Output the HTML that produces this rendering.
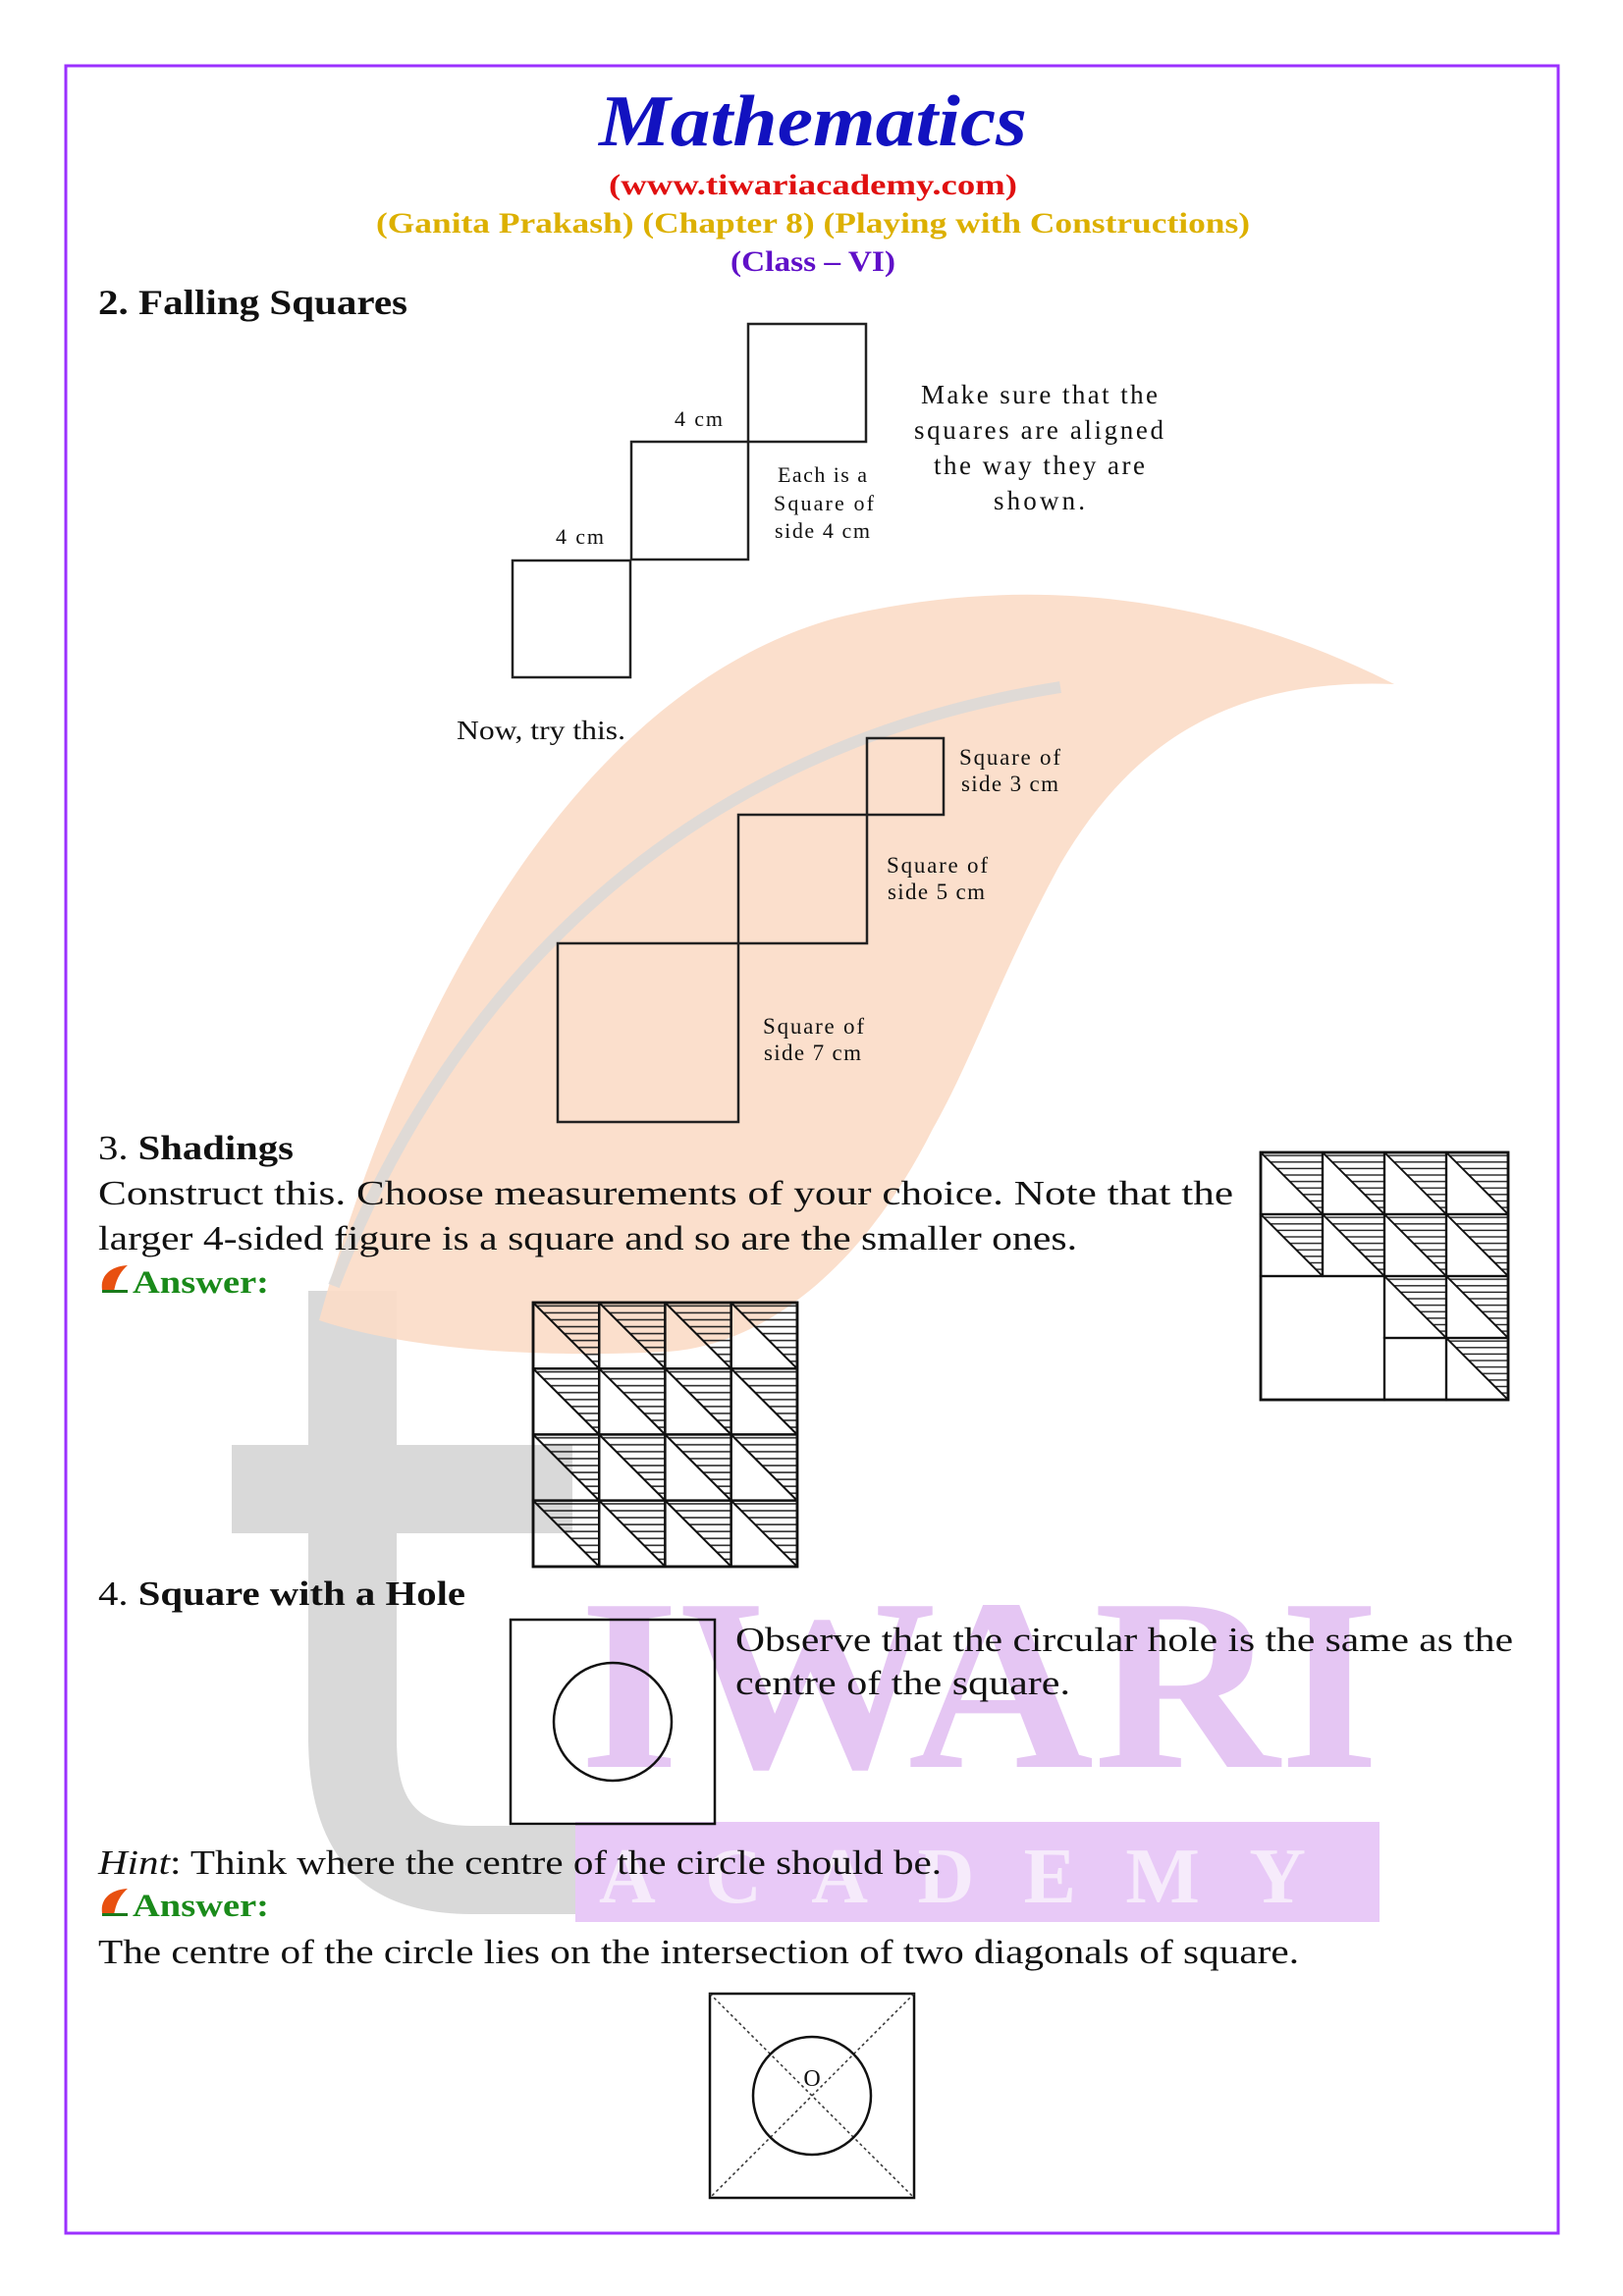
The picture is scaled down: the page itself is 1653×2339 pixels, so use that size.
<!DOCTYPE html>
<html><head><meta charset="utf-8"><style>html,body{margin:0;padding:0;background:#fff}svg{display:block}</style></head>
<body>
<svg width="1653" height="2339" viewBox="0 0 1653 2339" xmlns="http://www.w3.org/2000/svg" font-family="'Liberation Serif', serif">
<defs>
<pattern id="h" patternUnits="userSpaceOnUse" width="1" height="0.105"><line x1="0" y1="0.05" x2="1" y2="0.05" stroke="#222" stroke-width="0.022"/></pattern>
<g id="cell">
<polygon points="0,0 1,0 1,1" fill="url(#h)"/>
<line x1="0" y1="0" x2="1" y2="1" stroke="#111" stroke-width="0.03"/>
<rect x="0" y="0" width="1" height="1" fill="none" stroke="#111" stroke-width="0.035"/>
</g>
</defs>
<rect width="1653" height="2339" fill="#fff"/>
<!-- watermark -->
<rect x="314" y="1315" width="90" height="460" fill="#d9d9d9"/>
<path d="M325,1345 C420,1000 600,700 850,630 C1050,580 1250,610 1420,697 C1250,690 1150,760 1080,880 C1020,990 990,1080 950,1150 C880,1290 780,1370 680,1377 C520,1385 400,1370 325,1345 Z" fill="#fbdcc6" opacity="0.9"/>
<path d="M340,1310 C460,1000 700,760 1080,700" fill="none" stroke="#d8d8d8" stroke-width="12" opacity="0.8"/>
<rect x="236" y="1472" width="347" height="90" fill="#d9d9d9"/>
<path d="M314,1770 C314,1900 380,1950 480,1950 L590,1950 L590,1860 L480,1860 C420,1860 404,1830 404,1770 Z" fill="#d9d9d9"/>
<text x="590" y="1800" font-size="250" font-weight="bold" fill="#e5c6f3" textLength="815" lengthAdjust="spacingAndGlyphs">IWARI</text>
<rect x="586" y="1856" width="819" height="102" fill="#e8c9f7"/>
<text x="610" y="1938" font-size="80" font-weight="bold" fill="#f6ebfb" textLength="780" letter-spacing="60">ACADEMY</text>
<!-- border -->
<rect x="67" y="67" width="1520" height="2208" fill="none" stroke="#9b30ff" stroke-width="3"/>
<!-- header -->
<text x="610" y="148" font-size="74" font-weight="bold" font-style="italic" fill="#1212c0" textLength="436" lengthAdjust="spacingAndGlyphs">Mathematics</text>
<text x="620" y="198" font-size="30" font-weight="bold" fill="#e01010" textLength="416" lengthAdjust="spacingAndGlyphs">(www.tiwariacademy.com)</text>
<text x="383" y="237" font-size="30" font-weight="bold" fill="#dcb000" textLength="890" lengthAdjust="spacingAndGlyphs">(Ganita Prakash) (Chapter 8) (Playing with Constructions)</text>
<text x="744" y="276" font-size="30" font-weight="bold" fill="#6010c8" textLength="168" lengthAdjust="spacingAndGlyphs">(Class – VI)</text>
<g fill="#111">
<text x="100" y="320" font-size="36" font-weight="bold" textLength="315" lengthAdjust="spacingAndGlyphs">2. Falling Squares</text>
<g fill="none" stroke="#222" stroke-width="2.5">
<rect x="762" y="330" width="120" height="120"/>
<rect x="643" y="450" width="119" height="120"/>
<rect x="522" y="571" width="120" height="119"/>
<rect x="883" y="752" width="78" height="78"/>
<rect x="752" y="830" width="131" height="131"/>
<rect x="568" y="961" width="184" height="182"/>
</g>
<g font-size="22" lengthAdjust="spacingAndGlyphs">
<text x="687" y="434" textLength="49">4 cm</text>
<text x="566" y="554" textLength="49">4 cm</text>
<text x="792" y="491" textLength="91">Each is a</text>
<text x="788" y="520" textLength="102">Square of</text>
<text x="789" y="548" textLength="97">side 4 cm</text>
</g>
<g font-size="27" lengthAdjust="spacingAndGlyphs">
<text x="938" y="411" textLength="241">Make sure that the</text>
<text x="931" y="447" textLength="254">squares are aligned</text>
<text x="951" y="483" textLength="215">the way they are</text>
<text x="1012" y="519" textLength="93">shown.</text>
</g>
<text x="465" y="753" font-size="27" textLength="172" lengthAdjust="spacingAndGlyphs">Now, try this.</text>
<g font-size="23" lengthAdjust="spacingAndGlyphs">
<text x="977" y="779" textLength="103">Square of</text><text x="979" y="806" textLength="99">side 3 cm</text>
<text x="903" y="889" textLength="103">Square of</text><text x="904" y="916" textLength="99">side 5 cm</text>
<text x="777" y="1053" textLength="103">Square of</text><text x="778" y="1080" textLength="99">side 7 cm</text>
</g>
<text x="100" y="1181" font-size="35" textLength="199" lengthAdjust="spacingAndGlyphs">3. <tspan font-weight="bold">Shadings</tspan></text>
<text x="100" y="1227" font-size="35" textLength="1156" lengthAdjust="spacingAndGlyphs">Construct this. Choose measurements of your choice. Note that the</text>
<text x="100" y="1273" font-size="35" textLength="997" lengthAdjust="spacingAndGlyphs">larger 4-sided figure is a square and so are the smaller ones.</text>
<path d="M104,1314 C102,1300 112,1290 130,1289 C122,1296 118,1304 116,1316 Z" fill="#e85010"/>
<rect x="104" y="1314" width="26" height="3" fill="#1a7a1a"/>
<text x="135" y="1317" font-size="33" font-weight="bold" fill="#1a8a1a" textLength="139" lengthAdjust="spacingAndGlyphs">Answer:</text>
<text x="100" y="1635" font-size="35" textLength="374" lengthAdjust="spacingAndGlyphs">4. <tspan font-weight="bold">Square with a Hole</tspan></text>
<text x="749" y="1682" font-size="35" textLength="792" lengthAdjust="spacingAndGlyphs">Observe that the circular hole is the same as the</text>
<text x="749" y="1726" font-size="35" textLength="341" lengthAdjust="spacingAndGlyphs">centre of the square.</text>
<text x="100" y="1909" font-size="35" textLength="859" lengthAdjust="spacingAndGlyphs"><tspan font-style="italic">Hint</tspan>: Think where the centre of the circle should be.</text>
<path d="M104,1949 C102,1935 112,1925 130,1924 C122,1931 118,1939 116,1951 Z" fill="#e85010"/>
<rect x="104" y="1949" width="26" height="3" fill="#1a7a1a"/>
<text x="135" y="1952" font-size="33" font-weight="bold" fill="#1a8a1a" textLength="139" lengthAdjust="spacingAndGlyphs">Answer:</text>
<text x="100" y="2000" font-size="35" textLength="1223" lengthAdjust="spacingAndGlyphs">The centre of the circle lies on the intersection of two diagonals of square.</text>
</g>
<!-- right shading figure -->
<g>
<use href="#cell" transform="translate(1284,1174) scale(63)"/>
<use href="#cell" transform="translate(1347,1174) scale(63)"/>
<use href="#cell" transform="translate(1410,1174) scale(63)"/>
<use href="#cell" transform="translate(1473,1174) scale(63)"/>
<use href="#cell" transform="translate(1284,1237) scale(63)"/>
<use href="#cell" transform="translate(1347,1237) scale(63)"/>
<use href="#cell" transform="translate(1410,1237) scale(63)"/>
<use href="#cell" transform="translate(1473,1237) scale(63)"/>
<use href="#cell" transform="translate(1410,1300) scale(63)"/>
<use href="#cell" transform="translate(1473,1300) scale(63)"/>
<use href="#cell" transform="translate(1473,1363) scale(63)"/>
<rect x="1284" y="1300" width="126" height="126" fill="none" stroke="#111" stroke-width="2.2"/>
<rect x="1410" y="1363" width="63" height="63" fill="none" stroke="#111" stroke-width="2.2"/>
<rect x="1284" y="1174" width="252" height="252" fill="none" stroke="#111" stroke-width="2.8"/>
</g>
<!-- answer shading figure -->
<g>
<use href="#cell" transform="translate(543,1327) scale(67.2)"/>
<use href="#cell" transform="translate(610.2,1327) scale(67.2)"/>
<use href="#cell" transform="translate(677.4,1327) scale(67.2)"/>
<use href="#cell" transform="translate(744.6,1327) scale(67.2)"/>
<use href="#cell" transform="translate(543,1394.2) scale(67.2)"/>
<use href="#cell" transform="translate(610.2,1394.2) scale(67.2)"/>
<use href="#cell" transform="translate(677.4,1394.2) scale(67.2)"/>
<use href="#cell" transform="translate(744.6,1394.2) scale(67.2)"/>
<use href="#cell" transform="translate(543,1461.4) scale(67.2)"/>
<use href="#cell" transform="translate(610.2,1461.4) scale(67.2)"/>
<use href="#cell" transform="translate(677.4,1461.4) scale(67.2)"/>
<use href="#cell" transform="translate(744.6,1461.4) scale(67.2)"/>
<use href="#cell" transform="translate(543,1528.6) scale(67.2)"/>
<use href="#cell" transform="translate(610.2,1528.6) scale(67.2)"/>
<use href="#cell" transform="translate(677.4,1528.6) scale(67.2)"/>
<use href="#cell" transform="translate(744.6,1528.6) scale(67.2)"/>
<rect x="543" y="1327" width="269" height="269" fill="none" stroke="#111" stroke-width="2.8"/>
</g>
<!-- square with hole -->
<rect x="520" y="1650" width="208" height="208" fill="none" stroke="#111" stroke-width="2.5"/>
<circle cx="624" cy="1754" r="60" fill="none" stroke="#111" stroke-width="2.5"/>
<rect x="723" y="2031" width="208" height="208" fill="none" stroke="#111" stroke-width="2.5"/>
<line x1="723" y1="2031" x2="931" y2="2239" stroke="#333" stroke-width="1.5" stroke-dasharray="3,3"/>
<line x1="931" y1="2031" x2="723" y2="2239" stroke="#333" stroke-width="1.5" stroke-dasharray="3,3"/>
<circle cx="827" cy="2135" r="60" fill="none" stroke="#111" stroke-width="2.5"/>
<text x="827" y="2125" text-anchor="middle" font-size="24" fill="#111">O</text>
</svg>
</body></html>
